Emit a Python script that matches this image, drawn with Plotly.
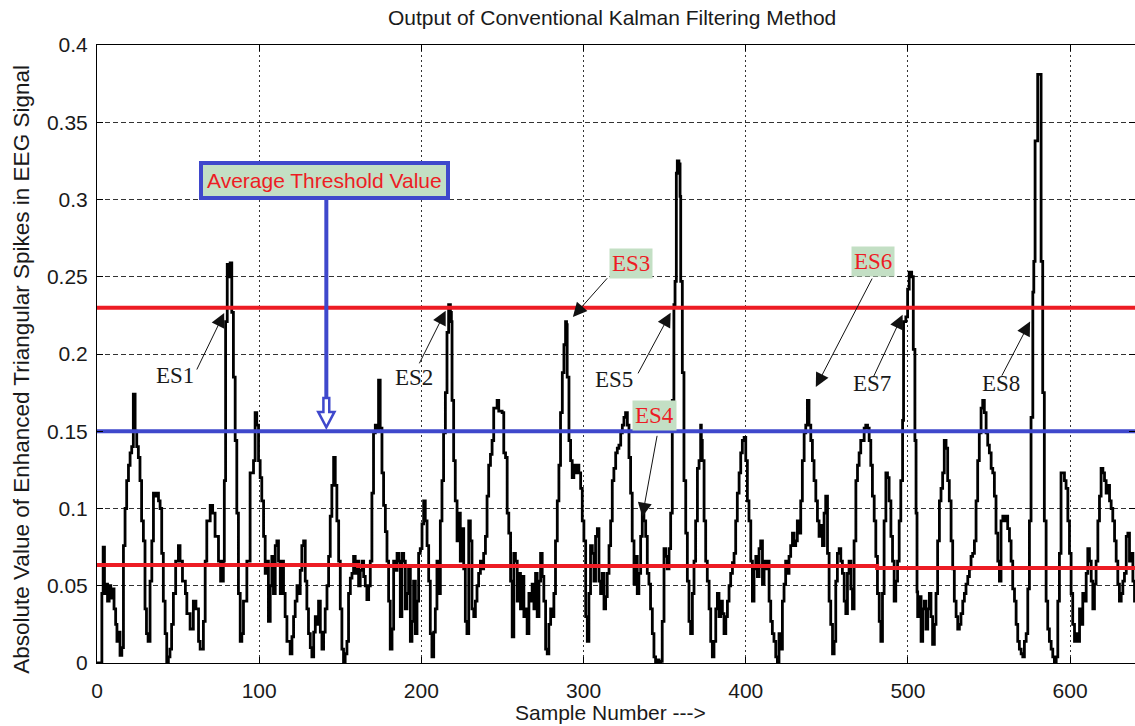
import plotly.graph_objects as go

# ---------------------------------------------------------------------------
# Filtered EEG output: absolute value of enhanced triangular spikes
# ---------------------------------------------------------------------------
sample_no = [
    0, 2.5, 3, 3.8, 4.6, 5.5, 6.5, 7.5, 8.5, 9.5, 10.5, 11.5, 12.3, 13.2, 14.2, 15.3,
    16.3, 17.3, 18.3, 19.4, 20.4, 21.4, 22.4, 23.5, 24.5, 25.5, 26.5, 27.5, 28.6, 29.6,
    30.5, 31.5, 32.7, 33.8, 34.8, 35.8, 36.8, 37.9, 38.9, 39.9, 40.9, 42, 43, 44, 45, 46,
    47.1, 48.5, 50.2, 51.2, 52.7, 54.5, 55.4, 57.4, 59.4, 61, 62.6, 63.6, 65.6, 66.7,
    67.7, 69.8, 71.3, 72.8, 74.9, 76.2, 77.9, 78.5, 79.3, 80.3, 81.1, 82.1,
    83.1, 84.1, 85.2, 86.2, 87.2, 88.3, 89.3, 90.3, 92.4, 94.4, 96.5, 97.5, 98.5, 99.6,
    100.6, 101.6, 102.7, 103.7, 104.7, 105.7, 106.8, 107.8, 108.8, 109.9, 110.9, 111.9,
    113, 114, 115, 116, 117.1, 119.1, 120.2, 121.2, 122.2, 123.3, 124.3, 125.3, 126.3,
    127.4, 128.4, 129.4, 130.4, 131.5, 132.5, 133.6, 134.6, 135.6, 136.6, 137.7, 138.7,
    139.7, 140.7, 141.8, 142.8, 143.8, 144.8, 145.9, 146.9, 147.9, 149, 150, 151, 152,
    153, 154.1, 155.1, 156.2, 157.2, 158.2, 159.2, 160.3, 161.3, 162.3, 163.4, 164.4,
    165.4, 166.4, 167.5, 168.5, 169.5, 170.5, 171.6, 172.6, 173.6, 174.6, 175.7, 176.7,
    177.8, 178.8, 179.8, 180.8, 181.9, 182.9, 184, 185, 186, 187, 188, 189.1, 190.1,
    191.1, 192.1, 193.2, 194.2, 195.2, 196.3, 197.3, 198.3, 199.3, 200.4, 201.4, 202.4,
    203.5, 204.5, 205.5, 206.5, 207.6, 208.6, 209.6, 210.7, 211.7, 212.7, 213.7, 214.8,
    215.8, 216.8, 217.9, 218.5, 218.9, 219.9, 220.9, 222, 223, 224, 225.1, 226.1, 227.1,
    228.1, 229.2, 230.2, 231.2, 232.3, 233.3, 234.3, 235.3, 236.4, 237.4, 238.4, 239.5,
    240.5, 241.5, 242.6, 243.6, 244.6, 245.7, 246.7, 247.7, 248.8, 249.8,
    250.8, 251.9, 252.9, 253.9, 255, 256, 257, 258, 259.1, 260.1, 261.1, 262.2, 263.2,
    264.2, 265.2, 266.3, 267.3, 268.3, 269.4, 270.4, 271.4, 272.5, 273.5, 274.5, 275.5,
    276.6, 277.6, 278.6, 279.7, 280.7, 281.7, 282.7, 283.8, 284.8, 285.8, 286.9, 287.9,
    288.9, 289.5, 289.9, 291, 292, 293, 294, 295.1, 296.1, 297.1, 298.2, 299.2, 300.2,
    301.3, 302.3, 303.3, 304.3, 305.4, 306.4, 307.4, 308.5, 309.5, 310.5, 311.5, 312.6,
    313.6, 314.6, 315.7, 316.7, 317.7, 318.7, 319.8, 320.8, 321.8, 322.9, 323.9, 324.9,
    325.9, 327, 328, 329,
    330, 331.1, 332.1, 333.1, 334.1, 335.2, 336.2, 337.2, 338.3, 339.3, 340.3, 341.3,
    342.4, 343.4, 344.4, 345.5, 346.5, 347.5, 348.5, 349.6, 350.6, 351.6, 352.7, 353.7,
    354.7, 355.7, 356.4, 357.2, 357.8, 358.8, 359.5, 359.9, 360.9, 361.9, 363, 364, 365,
    366, 367.1, 368.1, 369.1, 370.2, 371.2, 372.2, 372.6, 373.2, 374.3, 375.3, 376.3,
    377.4, 378.4, 379.4, 380.4, 381.5, 382.5, 383.5, 384.6, 385.6, 386.6, 387.7, 388.7,
    389.7, 390.7, 391.8, 392.8, 393.8, 394.8, 395.9, 396.9, 397.9, 399, 400, 401, 402,
    403.1, 404.1, 405.1, 406.2, 407.2, 408.2, 409.2, 410.3, 411.3, 412.3, 413.3,
    414.4, 415.4, 416.4, 417.4, 418.5, 419.5, 420.5, 421.6, 422.6, 423.6, 424.6, 425.7,
    426.7, 427.7, 428.8, 429.8, 430.8, 431.8, 432.9, 433.9, 434.9, 436, 437, 438, 439,
    440.1, 441.1, 442.1, 443.2, 444.2, 445.2, 446.2, 447.3, 448.3, 449.3, 450.4, 451.4,
    452.4, 453.5, 454.5, 455.5, 456.5, 457.6, 458.6, 459.6, 460.7, 461.7, 462.7, 463.7,
    464.8, 465.8, 466.8, 467.9, 468.9, 469.9, 470.9, 472, 473, 474, 475.1, 476.1, 477.1,
    478.1, 479.2, 480.2, 481.2, 482.3, 483.3, 484.3, 485.3, 486.4, 487.4, 488.4, 489.5,
    490.5, 491.5, 492.5, 493.6, 494.6, 495.6, 496.7, 497.3, 498.7, 499.8,
    500.8, 502.3, 503.3, 504.3, 505, 505.6, 506, 507, 508.1, 509.1, 510.1, 511.1, 512.2,
    513.2, 514.2, 515.2, 516.3, 517.3, 518.3, 519.4, 520.4, 521.4, 522.4, 523.5, 524.5,
    525.5, 526.6, 527.6, 528.6, 529.7, 530.7, 531.7, 532.7, 533.8, 534.8, 535.8, 536.9,
    537.9, 538.9, 539.9, 541, 542, 543, 544, 545.1, 546.1, 547.1, 548.2, 549.2, 550.2,
    551.3, 552.3, 553.3, 554.3, 555.4, 556.4, 557.4, 558.5, 559.5, 560.5, 561.5, 562.6,
    563.6, 564.6, 565.7, 566.7, 567.7, 568.7, 569.8, 570.8, 571.8, 572.9, 573.9, 574.9,
    575.9, 577, 577.6, 578.4, 579.4, 580, 581.5, 582.1, 583.1, 584.1, 585.2, 586.2,
    587.2, 588.3, 589.3, 590.3,
    591.4, 592.4, 593.4, 594.4, 595.5, 596.5, 597.5, 598.6, 599.6, 600.6, 601.6, 602.7,
    603.7, 604.7, 605.8, 606.8, 607.8, 608.8, 609.9, 610.9, 611.9, 613, 614, 615, 616,
    617.1, 618.1, 619.1, 620.2, 621.2, 622.2, 623.2, 624.3, 625.3, 626.3, 627.4, 628.4,
    629.4, 630.4, 631.5, 632.5, 633.5, 634.6, 635.6, 636.6, 637.7, 638.7, 639.7, 640.5,
]

amplitude = [
    0, 0, 0.045, 0.075, 0.045, 0.051, 0.04, 0.05, 0.042, 0.048, 0.035, 0.025, 0.014, 0.02, 0.005, 0.01,
    0.076, 0.1, 0.118, 0.128, 0.136, 0.14, 0.174, 0.15, 0.14, 0.133, 0.118, 0.092, 0.079, 0.035,
    0.019, 0.014, 0.053, 0.079, 0.11, 0.108, 0.11, 0.105, 0.1, 0.071, 0.04, 0.019, 0, 0.004, 0.009, 0.025,
    0.045, 0.066, 0.076, 0.066, 0.053, 0.045, 0.032, 0.022, 0.04, 0.035, 0.014, 0.009, 0.027, 0.066,
    0.092, 0.102, 0.097, 0.082, 0.066, 0.053, 0.066, 0.118, 0.221, 0.258, 0.25, 0.259,
    0.227, 0.185, 0.144, 0.097, 0.045, 0.014, 0.019, 0.04, 0.066, 0.123, 0.131, 0.162, 0.154, 0.131,
    0.12, 0.105, 0.082, 0.058, 0.066, 0.027, 0.05, 0.069, 0.045, 0.076, 0.079, 0.066,
    0.045, 0.066, 0.045, 0.03, 0.014, 0.006, 0.017, 0.03, 0.04, 0.05, 0.045, 0.06, 0.076,
    0.079, 0.053, 0.035, 0.019, 0.01, 0.004, 0.02, 0.03, 0.025, 0.04, 0.02, 0.009,
    0.02, 0.035, 0.05, 0.069, 0.095, 0.115, 0.133, 0.115, 0.092, 0.066, 0.035, 0.009, 0,
    0.006, 0.014, 0.045, 0.055, 0.058, 0.069, 0.058, 0.066, 0.05, 0.06, 0.066, 0.056,
    0.05, 0.041, 0.05, 0.066, 0.11, 0.149, 0.154, 0.15, 0.183, 0.152, 0.123, 0.102,
    0.085, 0.066, 0.04, 0.009, 0.022, 0.066, 0.06, 0.071, 0.066, 0.03, 0.071, 0.066, 0.035,
    0.045, 0.061, 0.014, 0.027, 0.053, 0.019, 0.04, 0.071, 0.074, 0.09, 0.105, 0.092,
    0.076, 0.053, 0.019, 0.004, 0.02, 0.035, 0.066, 0.045, 0.092, 0.118, 0.149, 0.175,
    0.214, 0.232, 0.227, 0.221, 0.17, 0.131, 0.105, 0.079, 0.097, 0.066, 0.087, 0.061, 0.027,
    0.019, 0.092, 0.079, 0.035, 0.03, 0.04, 0.05, 0.058, 0.066, 0.061, 0.071, 0.082,
    0.108, 0.128, 0.135, 0.144, 0.165, 0.165, 0.17, 0.163, 0.163, 0.162,
    0.136, 0.133, 0.097, 0.084, 0.053, 0.017, 0.071, 0.066, 0.04, 0.058, 0.035, 0.056, 0.03,
    0.035, 0.019, 0.045, 0.04, 0.051, 0.035, 0.058, 0.03, 0.053, 0.071, 0.056, 0.04,
    0.009, 0.006, 0.025, 0.035, 0.03, 0.045, 0.079, 0.105, 0.128, 0.162, 0.188, 0.206,
    0.221, 0.219, 0.185, 0.144, 0.131, 0.12, 0.128, 0.123, 0.128, 0.123, 0.113, 0.092, 0.079,
    0.03, 0.014, 0.045, 0.076, 0.071, 0.053, 0.082, 0.087, 0.053, 0.045, 0.058, 0.035,
    0.043, 0.058, 0.076, 0.092, 0.118, 0.126, 0.136, 0.139, 0.141, 0.149, 0.154, 0.159,
    0.162, 0.154, 0.133, 0.11,
    0.079, 0.051, 0.069, 0.045, 0.058, 0.082, 0.097, 0.092, 0.082, 0.058, 0.051, 0.035,
    0.019, 0.004, 0, 0.002, 0, 0.001, 0.027, 0.074, 0.069, 0.061, 0.074, 0.097,
    0.17, 0.232, 0.247, 0.317, 0.325, 0.323, 0.302, 0.247, 0.188, 0.118, 0.084, 0.053, 0.027,
    0.019, 0.045, 0.066, 0.092, 0.126, 0.131, 0.154, 0.144, 0.131, 0.092, 0.066, 0.053,
    0.035, 0.014, 0.004, 0.014, 0.035, 0.045, 0.03, 0.04, 0.032, 0.019, 0.03, 0.04,
    0.05, 0.058, 0.065, 0.071, 0.092, 0.11, 0.123, 0.136, 0.144, 0.146, 0.131, 0.105, 0.092,
    0.066, 0.04, 0.061, 0.069, 0.056, 0.074, 0.079, 0.051, 0.066, 0.061, 0.066,
    0.04, 0.027, 0.019, 0.014, 0.004, 0, 0.019, 0.009, 0.04, 0.051, 0.066, 0.058,
    0.069, 0.076, 0.084, 0.076, 0.079, 0.092, 0.084, 0.105, 0.131, 0.149, 0.154, 0.17, 0.154,
    0.144, 0.131, 0.118, 0.105, 0.092, 0.082, 0.089, 0.076, 0.097, 0.108, 0.071, 0.04,
    0.025, 0.006, 0.014, 0.053, 0.071, 0.074, 0.066, 0.058, 0.04, 0.032, 0.058, 0.066,
    0.048, 0.035, 0.079, 0.118, 0.128, 0.136, 0.144, 0.144, 0.152, 0.154, 0.152, 0.144, 0.128,
    0.108, 0.092, 0.069, 0.045, 0.027, 0.014, 0.045, 0.092, 0.123, 0.12, 0.105, 0.082,
    0.066, 0.04, 0.053, 0.066, 0.092, 0.118, 0.157, 0.221, 0.224, 0.242,
    0.253, 0.25, 0.203, 0.144, 0.097, 0.046, 0.03, 0.043, 0.014, 0.035, 0.04, 0.022, 0.035,
    0.045, 0.03, 0.012, 0.025, 0.045, 0.079, 0.105, 0.113, 0.123, 0.144, 0.139, 0.118,
    0.105, 0.079, 0.061, 0.04, 0.03, 0.022, 0.025, 0.032, 0.04, 0.045, 0.051, 0.056,
    0.061, 0.069, 0.071, 0.079, 0.105, 0.131, 0.149, 0.165, 0.17, 0.162, 0.149, 0.141, 0.136,
    0.126, 0.123, 0.108, 0.084, 0.066, 0.053, 0.092, 0.095, 0.092, 0.095, 0.087, 0.079,
    0.066, 0.048, 0.04, 0.025, 0.014, 0.009, 0.006, 0.004, 0.014, 0.019, 0.048, 0.092,
    0.159, 0.24, 0.26, 0.338, 0.338, 0.381, 0.381, 0.26, 0.175, 0.092, 0.04, 0.022,
    0.014, 0.009, 0.004, 0,
    0.004, 0.04, 0.071, 0.123, 0.123, 0.118, 0.113, 0.092, 0.071, 0.045, 0.025, 0.014,
    0.019, 0.014, 0.035, 0.025, 0.045, 0.04, 0.058, 0.074, 0.066, 0.053, 0.035, 0.051, 0.066,
    0.092, 0.108, 0.126, 0.123, 0.118, 0.11, 0.115, 0.105, 0.1, 0.092, 0.079, 0.066,
    0.051, 0.04, 0.045, 0.053, 0.058, 0.082, 0.084, 0.066, 0.071, 0.053, 0.04, 0.045,
]

# Detection thresholds
upper_threshold = 0.23
average_threshold = 0.15
lower_thr_x = [0, 161, 161, 481, 481, 640]
lower_thr_y = [0.0635, 0.0635, 0.0628, 0.0628, 0.0615, 0.0615]

# Axis ticks
x_ticks = [0, 100, 200, 300, 400, 500, 600]
y_ticks = [0, 0.05, 0.1, 0.15, 0.2, 0.25, 0.3, 0.35, 0.4]
y_tick_text = ["0", "0.05", "0.1", "0.15", "0.2", "0.25", "0.3", "0.35", "0.4"]

# Enhanced spike callouts: label position, arrow tail and arrow tip
spike_names = ["ES1", "ES2", "ES3", "ES4", "ES5", "ES6", "ES7", "ES8"]
spike_boxed = [False, False, True, True, False, True, False, False]
label_x = [48.1, 195.7, 329.0, 343.8, 318.5, 478.4, 477.8, 557.4]
label_y = [0.1858, 0.1845, 0.2589, 0.1599, 0.1832, 0.2601, 0.1812, 0.1812]
tail_x = [61.1, 198.3, 315.4, 345.5, 333.1, 478.4, 478.2, 557.4]
tail_y = [0.189, 0.193, 0.250, 0.148, 0.1865, 0.2498, 0.184, 0.185]
tip_x = [78.4, 215.0, 293.4, 336.2, 353.7, 443.2, 496.7, 575.3]
tip_y = [0.2265, 0.228, 0.224, 0.0946, 0.2267, 0.1786, 0.2254, 0.221]

# "Average Threshold Value" callout
avg_label_x, avg_label_y = 140.0, 0.3125
avg_arrow_x = 141.4
avg_arrow_top, avg_arrow_neck, avg_arrow_shoulder, avg_arrow_tip = 0.2997, 0.1715, 0.1625, 0.1525

RED = "#ed1c24"
BLUE = "#3f48cc"
GREEN_BOX = "#c3dfc4"

fig = go.Figure()

fig.add_trace(go.Scatter(
    x=sample_no, y=amplitude, mode="lines",
    line=dict(color="black", width=2.8, shape="hv"), hoverinfo="skip",
))
fig.add_trace(go.Scatter(
    x=[0, 640], y=[upper_threshold, upper_threshold], mode="lines",
    line=dict(color=RED, width=4), hoverinfo="skip",
))
fig.add_trace(go.Scatter(
    x=[0, 640], y=[average_threshold, average_threshold], mode="lines",
    line=dict(color=BLUE, width=4), hoverinfo="skip",
))
fig.add_trace(go.Scatter(
    x=lower_thr_x, y=lower_thr_y, mode="lines",
    line=dict(color=RED, width=4), hoverinfo="skip",
))

# Spike callouts
for name, boxed, lx, ly, ax_, ay_, tx, ty in zip(
        spike_names, spike_boxed, label_x, label_y, tail_x, tail_y, tip_x, tip_y):
    fig.add_annotation(
        x=tx, y=ty, ax=ax_, ay=ay_, xref="x", yref="y", axref="x", ayref="y",
        text="", showarrow=True, arrowhead=2, arrowsize=2.8, arrowwidth=1,
        arrowcolor="#111111", standoff=0, startstandoff=0,
    )
    fig.add_annotation(
        x=lx, y=ly, xref="x", yref="y", text=name, showarrow=False,
        font=dict(family="Liberation Serif, Times New Roman, serif", size=23,
                  color=RED if boxed else "#1a1a1a"),
        bgcolor=GREEN_BOX if boxed else "rgba(0,0,0,0)", borderpad=2,
    )

# Average threshold callout box with hollow down arrow
fig.add_annotation(
    x=avg_label_x, y=avg_label_y, xref="x", yref="y",
    text="Average Threshold Value", showarrow=False,
    font=dict(family="Liberation Sans, Arial, sans-serif", size=21, color=RED),
    bgcolor=GREEN_BOX, bordercolor=BLUE, borderwidth=4, borderpad=4,
)
fig.add_shape(
    type="line", xref="x", yref="y",
    x0=avg_arrow_x, x1=avg_arrow_x, y0=avg_arrow_top, y1=avg_arrow_neck,
    line=dict(color=BLUE, width=4),
)
hw_stem, hw_head = 1.8, 5.0
arrow_path = (
    f"M {avg_arrow_x - hw_stem},{avg_arrow_neck} "
    f"L {avg_arrow_x - hw_stem},{avg_arrow_shoulder} "
    f"L {avg_arrow_x - hw_head},{avg_arrow_shoulder} "
    f"L {avg_arrow_x},{avg_arrow_tip} "
    f"L {avg_arrow_x + hw_head},{avg_arrow_shoulder} "
    f"L {avg_arrow_x + hw_stem},{avg_arrow_shoulder} "
    f"L {avg_arrow_x + hw_stem},{avg_arrow_neck} Z"
)
fig.add_shape(type="path", xref="x", yref="y", path=arrow_path,
              line=dict(color=BLUE, width=2.5), fillcolor="white")

# Titles
fig.add_annotation(
    x=0.4965, y=1.0437, xref="paper", yref="paper", showarrow=False,
    text="Output of Conventional Kalman Filtering Method",
    font=dict(size=21, color="#1a1a1a"), xanchor="center", yanchor="middle",
)
fig.add_annotation(
    x=0.495, y=-0.0793, xref="paper", yref="paper", showarrow=False,
    text="Sample Number --->",
    font=dict(size=21, color="#1a1a1a"), xanchor="center", yanchor="middle",
)
fig.add_annotation(
    x=-0.0723, y=0.476, xref="paper", yref="paper", showarrow=False,
    text="Absolute Value of Enhanced Triangular Spikes in EEG Signal",
    textangle=-90, font=dict(size=22.5, color="#1a1a1a"),
    xanchor="center", yanchor="middle",
)

fig.update_layout(
    width=1135, height=726,
    margin=dict(l=97, r=0, t=45, b=63),
    paper_bgcolor="white", plot_bgcolor="white",
    showlegend=False,
    font=dict(family="Liberation Sans, Arial, sans-serif", size=21, color="#1a1a1a"),
)
fig.update_xaxes(
    range=[0, 640], tickvals=x_ticks, ticks="inside", ticklen=6, tickcolor="black",
    showline=True, linecolor="black", linewidth=1, mirror="ticks",
    showgrid=True, gridcolor="#333333", gridwidth=1, griddash="2px,3px",
    zeroline=False, ticklabelstandoff=9,
)
fig.update_yaxes(
    range=[0, 0.4], tickvals=y_ticks, ticktext=y_tick_text,
    ticks="inside", ticklen=6, tickcolor="black",
    showline=True, linecolor="black", linewidth=1, mirror="ticks",
    showgrid=True, gridcolor="#333333", gridwidth=1, griddash="5px,3px",
    zeroline=False, ticklabelstandoff=4,
)

fig.write_html("out.html")
